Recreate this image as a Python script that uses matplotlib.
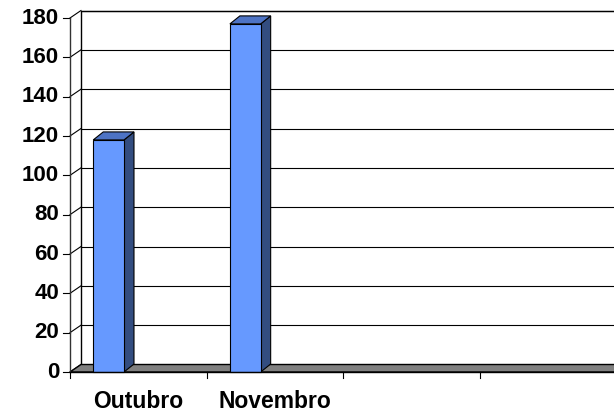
import matplotlib
matplotlib.use('Agg')
import matplotlib.pyplot as plt
from matplotlib.patches import Polygon
from matplotlib.lines import Line2D
from matplotlib.transforms import IdentityTransform

# Data
categories = ['Outubro', 'Novembro', '', '']
values = [118, 177]
yticks = [0, 20, 40, 60, 80, 100, 120, 140, 160, 180]

plt.rcParams['font.family'] = ['Liberation Sans', 'DejaVu Sans']

W, H = 614, 413
fig = plt.figure(figsize=(W / 100, H / 100), dpi=100)
fig.patch.set_facecolor('white')

# axes placed so the front plane matches the reference
left_px, right_px, bottom_px, top_px = 70, 616.7, 372, 18
ax = fig.add_axes([left_px / W, (H - bottom_px) / H,
                   (right_px - left_px) / W, (bottom_px - top_px) / H])
ax.set_xlim(0, len(categories))
ax.set_ylim(0, 180)
ax.axis('off')

DX, DY = 11, 7.5      # depth offset of the walls (pixels)
BDX, BDY = 10, 8      # depth offset of the columns (pixels)
ident = IdentityTransform()


def px(x, y):
    return ax.transData.transform((x, y))


def poly(pts, fc, ec='black', lw=0.8, z=1):
    p = Polygon(pts, closed=True, facecolor=fc, edgecolor=ec, linewidth=lw,
                transform=ident, clip_on=False, zorder=z)
    fig.add_artist(p)


def line(xs, ys, color='black', lw=0.8, z=2):
    fig.add_artist(Line2D(xs, ys, color=color, linewidth=lw,
                         transform=ident, zorder=z))


x0, y0 = px(0, 0)
x4, _ = px(len(categories), 0)
_, ytop = px(0, 180)

# back wall + gridlines
poly([(x0 + DX, y0 + DY), (x4 + DX, y0 + DY), (x4 + DX, ytop + DY), (x0 + DX, ytop + DY)],
     'white', lw=1.0, z=1)
for t in yticks:
    _, yy = px(0, t)
    line([x0 + DX, x4 + DX], [yy + DY, yy + DY], lw=0.8, z=2)
    # side wall diagonals
    line([x0, x0 + DX], [yy, yy + DY], lw=0.8, z=2)
    # tick marks on the value axis
    line([x0 - 7, x0], [yy, yy], lw=0.8, z=6)
    ax.text(x0 - 11, yy, str(t), transform=ident, ha='right', va='center',
            fontsize=16, fontweight='bold')

# floor
poly([(x0, y0), (x4, y0), (x4 + DX, y0 + DY), (x0 + DX, y0 + DY)],
     '#808080', lw=1.0, z=3)

# columns
front_c, top_c, side_c = '#6699FF', '#4D73C4', '#334D80'
bar_off, bar_w = 0.17, 0.225
for i, v in enumerate(values):
    bx0, by0 = px(i + bar_off, 0)
    bx1, by1 = px(i + bar_off + bar_w, v)
    poly([(bx1, by0), (bx1 + BDX, by0 + BDY), (bx1 + BDX, by1 + BDY), (bx1, by1)],
         side_c, lw=0.8, z=4)
    poly([(bx0, by1), (bx1, by1), (bx1 + BDX, by1 + BDY), (bx0 + BDX, by1 + BDY)],
         top_c, lw=0.8, z=4)
    poly([(bx0, by0), (bx1, by0), (bx1, by1), (bx0, by1)],
         front_c, lw=0.8, z=5)

# front axis lines
line([x0, x0], [y0, ytop], color='#333333', lw=1.0, z=6)
line([x0, x4], [y0, y0], lw=1.0, z=6)
for i in range(len(categories) + 1):
    xx, _ = px(i, 0)
    line([xx, xx], [y0, y0 - 6], lw=0.8, z=6)
for i, c in enumerate(categories):
    if c:
        xx, _ = px(i + 0.5, 0)
        ax.text(xx, y0 - 29, c, transform=ident, ha='center', va='center',
                fontsize=16.5, fontweight='bold')

fig.savefig('out.png', dpi=100)
